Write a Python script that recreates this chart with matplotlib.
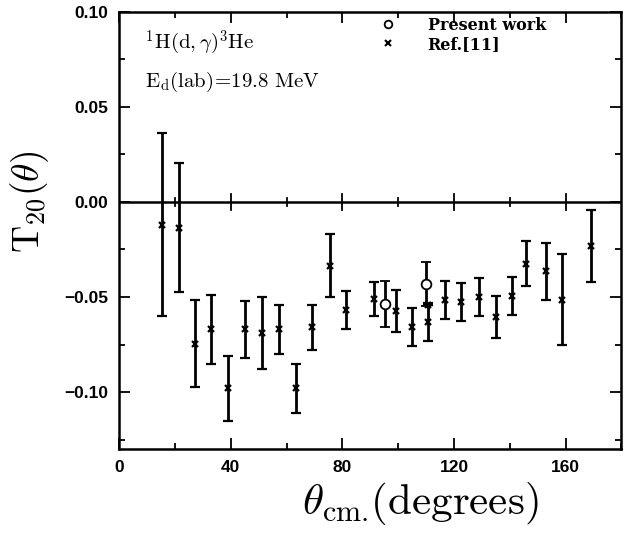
import numpy as np
import matplotlib
matplotlib.use("Agg")
import matplotlib.pyplot as plt
from matplotlib.ticker import MultipleLocator
from matplotlib.lines import Line2D

plt.rcParams['mathtext.fontset'] = 'cm'

# Ref.[11] data
ref_theta = [15.5, 21.4, 27.2, 33.1, 39.0, 45.1, 51.1, 57.2, 63.3, 69.2, 75.4, 81.3,
             91.2, 99.2, 104.8, 110.6, 110.6, 116.7, 122.7, 128.9, 134.9, 140.9,
             145.8, 152.9, 158.9, 169.0]
ref_t20 = [-0.012, -0.0135, -0.0745, -0.067, -0.098, -0.067, -0.069, -0.067, -0.098,
           -0.066, -0.0335, -0.057, -0.051, -0.0575, -0.0656, -0.054, -0.063, -0.0517,
           -0.0526, -0.0498, -0.0607, -0.0496, -0.0324, -0.0365, -0.0514, -0.023]
ref_err = [0.048, 0.034, 0.023, 0.018, 0.017, 0.015, 0.019, 0.013, 0.013, 0.012, 0.0165,
           0.010, 0.009, 0.011, 0.010, 0.0, 0.010, 0.010, 0.010, 0.010, 0.011, 0.010,
           0.012, 0.015, 0.024, 0.019]

# present work
pw_theta = [95.4, 110.0]
pw_t20 = [-0.0537, -0.0432]
pw_err = [0.012, 0.0115]

fig = plt.figure(figsize=(6.27, 5.36), dpi=100)
ax = fig.add_axes([0.190, 0.162, 0.801, 0.816])

ax.axhline(0, color='black', lw=1.8, zorder=1)
# ticks crossing the zero line
for xt in range(20, 180, 20):
    h = 0.004 if xt % 40 == 0 else 0.002
    ax.plot([xt, xt], [-h, h], color='black', lw=1.3, zorder=1)

ax.errorbar(ref_theta, ref_t20, yerr=ref_err, fmt='x', color='black', ms=4.5, mew=1.6,
            elinewidth=2.0, capsize=3.8, capthick=1.6, zorder=3)
ax.errorbar(pw_theta, pw_t20, yerr=pw_err, fmt='o', color='black', mfc='white', ms=7,
            mew=1.3, elinewidth=2.0, capsize=3.8, capthick=1.6, zorder=4)

ax.set_xlim(0, 180)
ax.set_ylim(-0.13, 0.10)
ax.xaxis.set_minor_locator(MultipleLocator(20))
ax.yaxis.set_minor_locator(MultipleLocator(0.025))
ax.tick_params(which='both', direction='in', top=True, right=True, width=1.3)
ax.tick_params(which='major', length=8, pad=8)
ax.tick_params(which='minor', length=4)
ax.set_xticks([0, 40, 80, 120, 160])
ax.set_xticklabels(['0', '40', '80', '120', '160'], fontweight='bold', fontsize=12.5,
                   family='Liberation Sans')
ax.set_yticks([0.10, 0.05, 0.00, -0.05, -0.10])
ax.set_yticklabels(['0.10', '0.05', '0.00', '\u22120.05', '\u22120.10'],
                   fontweight='bold', fontsize=12.5, family='Liberation Sans')
for s in ax.spines.values():
    s.set_linewidth(1.8)

ax.set_xlabel(r'$\theta_{\rm cm.}\!\mathrm{(degrees)}$', fontsize=31)
ax.xaxis.set_label_coords(0.60, -0.07)
ax.set_ylabel(r'$\mathrm{T}_{20}(\theta)$', fontsize=27)
ax.yaxis.set_label_coords(-0.135, 0.566)

ax.text(0.051, 0.928, r'$^{1}\mathrm{H(d,}\gamma\mathrm{)}^{3}\mathrm{He}$',
        transform=ax.transAxes, fontsize=15, va='center')
ax.text(0.051, 0.839, r'$\mathrm{E_d(lab)\!=\!19.8\ MeV}$',
        transform=ax.transAxes, fontsize=15, va='center')

handles = [Line2D([], [], ls='none', marker='o', mfc='white', mec='black', ms=5.5, mew=1.3),
           Line2D([], [], ls='none', marker='x', color='black', ms=4, mew=1.5)]
ax.legend(handles, ['Present work', 'Ref.[11]'], loc='upper left',
          bbox_to_anchor=(0.519, 0.988), frameon=False, borderaxespad=0, borderpad=0,
          handlelength=1.0, handletextpad=2.0, labelspacing=0.1,
          prop={'family': 'DejaVu Serif', 'weight': 'bold', 'size': 11.5})

fig.savefig('out.png', dpi=100)
